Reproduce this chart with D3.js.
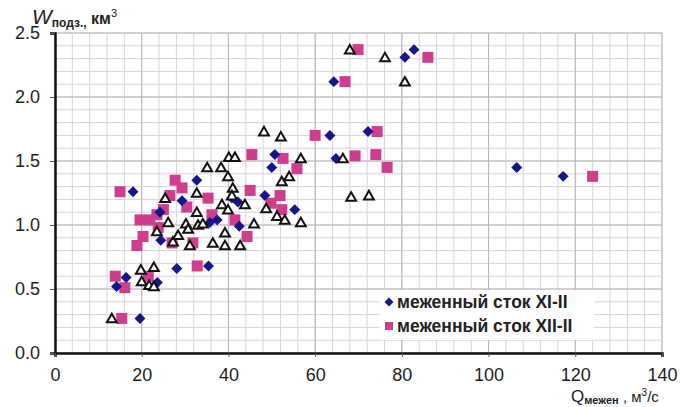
<!DOCTYPE html>
<html>
<head>
<meta charset="utf-8">
<script src="https://cdn.jsdelivr.net/npm/d3@7"></script>
<style>
  body { margin: 0; background: #fff; }
  svg { display: block; font-family: "Liberation Sans", Arial, sans-serif; }
</style>
</head>
<body>
<svg id="chart" width="680" height="407"></svg>
<script>
// межень XI-II (diamonds): [Q, W]
const seriesXI = [
  [19.6, 0.27], [14.2, 0.52], [16.4, 0.59], [23.6, 0.55], [28.1, 0.66], [35.4, 0.68],
  [24.4, 0.88], [18.0, 1.26], [29.3, 1.19], [32.7, 1.35], [35.7, 1.02], [37.4, 1.04],
  [40.8, 1.21], [42.2, 1.18], [42.5, 0.99], [48.4, 1.23], [50.0, 1.45], [50.7, 1.55],
  [55.3, 1.12], [63.4, 1.70], [64.8, 1.52], [64.3, 2.12], [72.2, 1.73], [80.7, 2.31],
  [82.8, 2.37], [106.5, 1.45], [117.2, 1.38], [24.2, 1.10]
];
// межень XII-II (squares)
const seriesXII = [
  [15.4, 0.27], [13.9, 0.60], [16.1, 0.51], [21.5, 0.60], [32.8, 0.68], [15.0, 1.26],
  [18.9, 0.84], [20.3, 0.91], [19.6, 1.04], [21.9, 1.04], [23.8, 0.98], [26.5, 1.23],
  [27.7, 1.35], [29.3, 1.29], [30.4, 1.14], [27.0, 0.86], [31.8, 0.86], [35.3, 1.21],
  [36.2, 1.08], [41.5, 1.04], [44.3, 0.91], [45.0, 1.27], [45.4, 1.55], [49.8, 1.17],
  [51.9, 1.23], [52.3, 1.12], [52.6, 1.52], [55.8, 1.44], [60.0, 1.70], [66.9, 2.12],
  [69.2, 1.54], [69.9, 2.37], [74.0, 1.55], [74.3, 1.73], [76.6, 1.45], [86.0, 2.31],
  [124.0, 1.38], [23.5, 1.08], [25.0, 1.12]
];
// third series, open triangles (not in legend)
const seriesTri = [
  [13.1, 0.27], [19.8, 0.65], [22.8, 0.67], [20.0, 0.56], [21.7, 0.53], [22.8, 0.52],
  [23.5, 0.95], [25.4, 1.21], [26.1, 1.02], [27.2, 0.87], [28.4, 0.92], [30.2, 1.01],
  [30.7, 0.97], [31.1, 0.84], [32.7, 1.25], [32.7, 1.10], [33.0, 1.00], [34.1, 1.01],
  [35.1, 1.45], [36.4, 0.86], [38.3, 1.45], [38.5, 1.16], [39.2, 0.94], [39.2, 0.84],
  [39.9, 1.38], [39.9, 1.12], [40.1, 1.53], [41.5, 1.53], [41.0, 1.29], [40.8, 1.23],
  [42.7, 0.84], [43.8, 1.16], [45.9, 1.01], [48.2, 1.73], [48.7, 1.13], [51.2, 1.07],
  [52.1, 1.69], [52.3, 1.34], [53.0, 1.04], [54.0, 1.38], [56.7, 1.52], [56.7, 1.02],
  [66.4, 1.52], [68.3, 1.22], [72.4, 1.23], [68.0, 2.37], [76.1, 2.31], [80.7, 2.12]
];
const xTicks = [0, 20, 40, 60, 80, 100, 120, 140];
const yTicks = [0, 0.5, 1.0, 1.5, 2.0, 2.5];
const legendLabels = ["меженный сток XI-II", "меженный сток XII-II"];

const svg = d3.select("#chart");
const x = d3.scaleLinear().domain([0, 140]).range([55, 662]);
const y = d3.scaleLinear().domain([0, 2.5]).range([353, 33]);

// grid: minor every 4 / 0.1, major every 20 / 0.5
const grid = svg.append("g");
grid.selectAll(".vmin").data(d3.range(0, 141, 4)).enter().append("line")
  .attr("x1", d => x(d)).attr("x2", d => x(d))
  .attr("y1", y(0)).attr("y2", y(2.5))
  .attr("stroke", "#dcd3dc").attr("stroke-width", 1);
grid.selectAll(".hmin").data(d3.range(0, 26).map(i => i / 10)).enter().append("line")
  .attr("x1", x(0)).attr("x2", x(140))
  .attr("y1", d => y(d)).attr("y2", d => y(d))
  .attr("stroke", "#dcd3dc").attr("stroke-width", 1);
grid.selectAll(".vmaj").data(xTicks).enter().append("line")
  .attr("x1", d => x(d)).attr("x2", d => x(d))
  .attr("y1", y(0)).attr("y2", y(2.5))
  .attr("stroke", "#bdb2bd").attr("stroke-width", 1);
grid.selectAll(".hmaj").data(yTicks).enter().append("line")
  .attr("x1", x(0)).attr("x2", x(140))
  .attr("y1", d => y(d)).attr("y2", d => y(d))
  .attr("stroke", "#bdb2bd").attr("stroke-width", 1);

// legend box sits on top of the grid
svg.append("rect").attr("x", 380).attr("y", 290).attr("width", 214).attr("height", 50)
  .attr("fill", "#fff");

// axes
const yAxis = svg.append("g").attr("transform", `translate(${x(0)},0)`)
  .call(d3.axisLeft(y).tickValues(yTicks).tickFormat(d3.format(".1f")).tickSize(5).tickPadding(10));
const xAxis = svg.append("g").attr("transform", `translate(0,${y(0)})`)
  .call(d3.axisBottom(x).tickValues(xTicks).tickSize(4).tickPadding(11));
[xAxis, yAxis].forEach(g => {
  g.select(".domain").attr("stroke", "#111").attr("stroke-width", 2.5);
  g.selectAll(".tick line").attr("stroke", "#555");
  g.selectAll("text").attr("font-size", 18).attr("fill", "#1e1e1e")
    .attr("font-family", "Liberation Sans, Arial, sans-serif");
});

// markers
svg.append("g").selectAll("path").data(seriesXII).enter().append("path")
  .attr("d", d3.symbol().type(d3.symbolSquare).size(121))
  .attr("transform", d => `translate(${x(d[0])},${y(d[1])})`)
  .attr("fill", "#cf3d8d");
svg.append("g").selectAll("path").data(seriesXI).enter().append("path")
  .attr("d", d3.symbol().type(d3.symbolSquare).size(60))
  .attr("transform", d => `translate(${x(d[0])},${y(d[1])}) rotate(45)`)
  .attr("fill", "#15158c");
svg.append("g").selectAll("path").data(seriesTri).enter().append("path")
  .attr("d", d3.symbol().type(d3.symbolTriangle).size(42))
  .attr("transform", d => `translate(${x(d[0])},${y(d[1]) + 1})`)
  .attr("fill", "#fff").attr("stroke", "#111").attr("stroke-width", 2);

// legend
const leg = svg.append("g");
leg.append("path").attr("d", d3.symbol().type(d3.symbolSquare).size(40))
  .attr("transform", "translate(389,302) rotate(45)").attr("fill", "#15158c");
leg.append("path").attr("d", d3.symbol().type(d3.symbolSquare).size(64))
  .attr("transform", "translate(389,326)").attr("fill", "#cf3d8d");
leg.selectAll("text").data(legendLabels).enter().append("text")
  .attr("x", 397).attr("y", (d, i) => 308 + i * 24)
  .attr("font-size", 17.5).attr("font-weight", "bold").attr("fill", "#222")
  .text(d => d);

// axis titles
const yt = svg.append("text").attr("x", 32).attr("y", 24).attr("fill", "#222");
yt.append("tspan").attr("font-style", "italic").attr("font-size", 21).text("W");
yt.append("tspan").attr("font-size", 12).attr("font-weight", "bold").attr("dy", 3).text("подз.,");
yt.append("tspan").attr("font-size", 16).attr("font-weight", "bold").attr("dy", -3).text(" км");
yt.append("tspan").attr("font-size", 11).attr("dy", -7).text("3");

const xt = svg.append("text").attr("x", 571).attr("y", 402).attr("fill", "#222");
xt.append("tspan").attr("font-size", 17).text("Q");
xt.append("tspan").attr("font-size", 11).attr("font-weight", "bold").attr("dy", 2).text("межен");
xt.append("tspan").attr("font-size", 15).attr("dy", -2).text(" , м");
xt.append("tspan").attr("font-size", 10).attr("dy", -6).text("3");
xt.append("tspan").attr("font-size", 15).attr("dy", 6).text("/с");
</script>
</body>
</html>
